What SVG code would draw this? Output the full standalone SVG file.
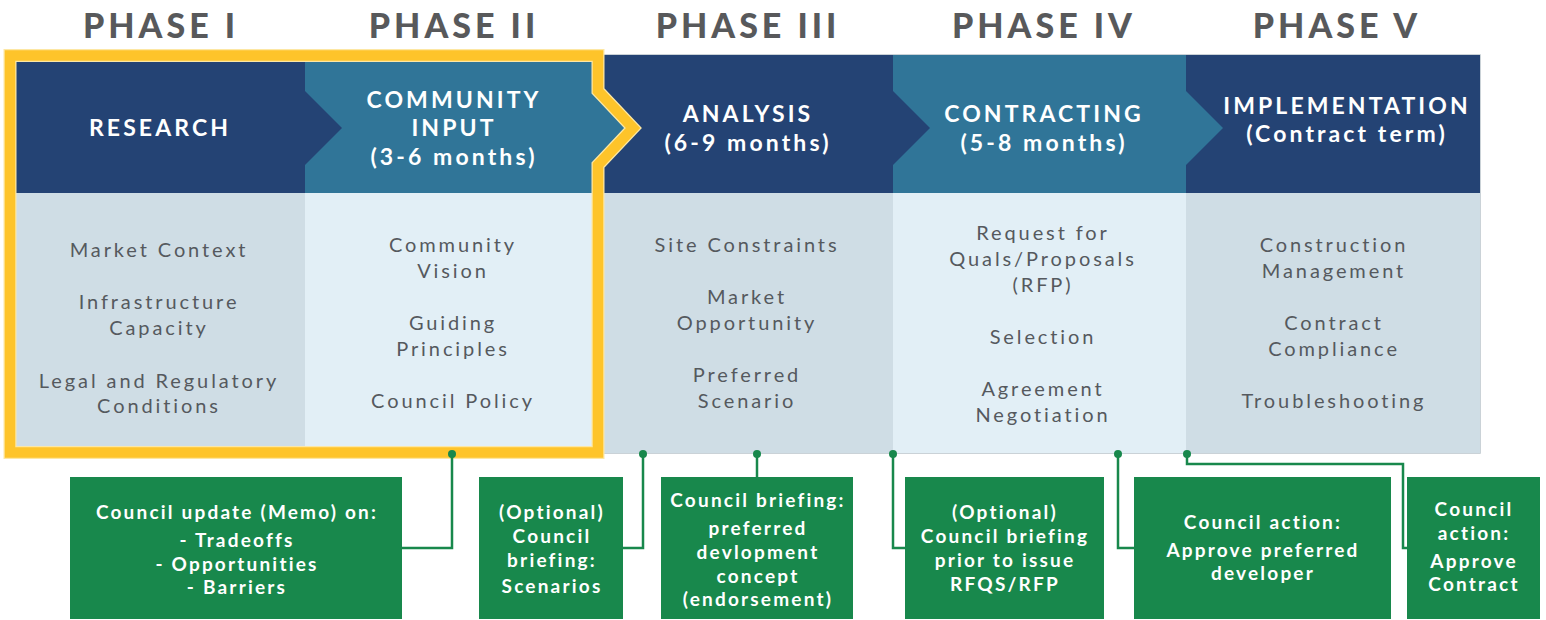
<svg xmlns="http://www.w3.org/2000/svg" width="1546" height="620" viewBox="0 0 1546 620">
<style>
.phase{font-family:Lato,"Open Sans","Liberation Sans",sans-serif;font-weight:900;font-size:34px;fill:#58595b;text-anchor:middle;letter-spacing:4px}
.hd{font-family:Lato,"Open Sans","Liberation Sans",sans-serif;font-weight:700;font-size:23px;fill:#ffffff;text-anchor:middle;letter-spacing:3.1px}
.bd{font-family:Lato,"Open Sans","Liberation Sans",sans-serif;font-weight:400;font-size:20px;fill:#55595e;text-anchor:middle;letter-spacing:2.9px}
.bx{font-family:Lato,"Open Sans","Liberation Sans",sans-serif;font-weight:700;font-size:19px;fill:#ffffff;text-anchor:middle;letter-spacing:2.2px}
.dark{fill:#244374}
.teal{fill:#307598}
.b1{fill:#cfdde5}
.b2{fill:#e2eff6}
.gbox{fill:#18884c}
.conn{fill:none;stroke:#18884c;stroke-width:2.5}
.dot{fill:#18884c}
</style>

<!-- phase titles -->
<g id="phase-titles">
<text class="phase" x="161" y="38">PHASE I</text>
<text class="phase" x="454" y="38">PHASE II</text>
<text class="phase" x="748" y="38">PHASE III</text>
<text class="phase" x="1044" y="38">PHASE IV</text>
<text class="phase" x="1337" y="38">PHASE V</text>
</g>

<!-- body background outline -->
<rect x="10" y="55" width="1470" height="398" fill="none" stroke="#b9c3ca" stroke-width="1.5"/>

<g id="research">
<rect class="dark" x="10" y="55" width="295" height="138"/>
<rect class="b1" x="10" y="193" width="295" height="260"/>
<text class="hd" x="160" y="136">RESEARCH</text>
<text class="bd" x="159" y="257">Market Context</text>
<text class="bd" x="159" y="309">Infrastructure</text>
<text class="bd" x="159" y="335">Capacity</text>
<text class="bd" x="159" y="388">Legal and Regulatory</text>
<text class="bd" x="159" y="413">Conditions</text>
</g>

<g id="community-input">
<rect class="teal" x="305" y="55" width="295" height="138"/>
<polygon class="dark" points="305,91 342,128 305,165"/>
<rect class="b2" x="305" y="193" width="295" height="260"/>
<text class="hd" x="454" y="108">COMMUNITY</text>
<text class="hd" x="454" y="136">INPUT</text>
<text class="hd" x="454" y="165">(3-6 months)</text>
<text class="bd" x="453" y="252">Community</text>
<text class="bd" x="453" y="278">Vision</text>
<text class="bd" x="453" y="330">Guiding</text>
<text class="bd" x="453" y="356">Principles</text>
<text class="bd" x="453" y="408">Council Policy</text>
</g>

<g id="analysis">
<rect class="dark" x="600" y="55" width="293" height="138"/>
<polygon class="teal" points="600,91 637,128 600,165"/>
<rect class="b1" x="600" y="193" width="293" height="260"/>
<text class="hd" x="748" y="122">ANALYSIS</text>
<text class="hd" x="748" y="151">(6-9 months)</text>
<text class="bd" x="747" y="252">Site Constraints</text>
<text class="bd" x="747" y="304">Market</text>
<text class="bd" x="747" y="330">Opportunity</text>
<text class="bd" x="747" y="382">Preferred</text>
<text class="bd" x="747" y="408">Scenario</text>
</g>

<g id="contracting">
<rect class="teal" x="893" y="55" width="293" height="138"/>
<polygon class="dark" points="893,91 930,128 893,165"/>
<rect class="b2" x="893" y="193" width="293" height="260"/>
<text class="hd" x="1044" y="122">CONTRACTING</text>
<text class="hd" x="1044" y="151">(5-8 months)</text>
<text class="bd" x="1043" y="240">Request for</text>
<text class="bd" x="1043" y="266">Quals/Proposals</text>
<text class="bd" x="1043" y="292">(RFP)</text>
<text class="bd" x="1043" y="344">Selection</text>
<text class="bd" x="1043" y="396">Agreement</text>
<text class="bd" x="1043" y="422">Negotiation</text>
</g>

<g id="implementation">
<rect class="dark" x="1186" y="55" width="294" height="138"/>
<polygon class="teal" points="1186,91 1223,128 1186,165"/>
<rect class="b1" x="1186" y="193" width="294" height="260"/>
<text class="hd" x="1347" y="114">IMPLEMENTATION</text>
<text class="hd" x="1347" y="142">(Contract term)</text>
<text class="bd" x="1334" y="252">Construction</text>
<text class="bd" x="1334" y="278">Management</text>
<text class="bd" x="1334" y="330">Contract</text>
<text class="bd" x="1334" y="356">Compliance</text>
<text class="bd" x="1334" y="408">Troubleshooting</text>
</g>

<!-- yellow highlight of phases I-II -->
<g id="highlight">
<path d="M10,55.5 H598 V91 L633,128 L598,165 V452.5 H10 Z" fill="none" stroke="#fde7a3" stroke-width="13" stroke-linejoin="miter"/>
<path d="M10,55.5 H598 V91 L633,128 L598,165 V452.5 H10 Z" fill="none" stroke="#fec42a" stroke-width="10.5" stroke-linejoin="miter"/>
</g>

<g id="connectors">
<path class="conn" d="M452,454 V548 H402"/>
<path class="conn" d="M643,454 V548 H623"/>
<path class="conn" d="M757,454 V477"/>
<path class="conn" d="M893,454 V548 H905"/>
<path class="conn" d="M1118,454 V548 H1134"/>
<path class="conn" d="M1187,454 V464 H1403 V548 H1407"/>
<circle class="dot" cx="452" cy="454" r="4"/>
<circle class="dot" cx="643" cy="454" r="4"/>
<circle class="dot" cx="757" cy="454" r="4"/>
<circle class="dot" cx="893" cy="454" r="4"/>
<circle class="dot" cx="1118" cy="454" r="4"/>
<circle class="dot" cx="1187" cy="454" r="4"/>
</g>

<g id="box-memo">
<rect class="gbox" x="70" y="477" width="332" height="142"/>
<text class="bx" x="237" y="519">Council update (Memo) on:</text>
<text class="bx" x="237" y="547">- Tradeoffs</text>
<text class="bx" x="237" y="571">- Opportunities</text>
<text class="bx" x="237" y="594">- Barriers</text>
</g>

<g id="box-scenarios">
<rect class="gbox" x="479" y="477" width="144" height="142"/>
<text class="bx" x="552" y="519">(Optional)</text>
<text class="bx" x="552" y="543">Council</text>
<text class="bx" x="552" y="567">briefing:</text>
<text class="bx" x="552" y="593">Scenarios</text>
</g>

<g id="box-concept">
<rect class="gbox" x="661" y="477" width="192" height="142"/>
<text class="bx" x="758" y="507">Council briefing:</text>
<text class="bx" x="758" y="535">preferred</text>
<text class="bx" x="758" y="559">devlopment</text>
<text class="bx" x="758" y="583">concept</text>
<text class="bx" x="758" y="606">(endorsement)</text>
</g>

<g id="box-rfp">
<rect class="gbox" x="905" y="477" width="199" height="142"/>
<text class="bx" x="1005" y="519">(Optional)</text>
<text class="bx" x="1005" y="543">Council briefing</text>
<text class="bx" x="1005" y="567">prior to issue</text>
<text class="bx" x="1005" y="591">RFQS/RFP</text>
</g>

<g id="box-developer">
<rect class="gbox" x="1134" y="477" width="257" height="142"/>
<text class="bx" x="1263" y="529">Council action:</text>
<text class="bx" x="1263" y="557">Approve preferred</text>
<text class="bx" x="1263" y="580">developer</text>
</g>

<g id="box-contract">
<rect class="gbox" x="1407" y="477" width="133" height="142"/>
<text class="bx" x="1474" y="516">Council</text>
<text class="bx" x="1474" y="540">action:</text>
<text class="bx" x="1474" y="568">Approve</text>
<text class="bx" x="1474" y="591">Contract</text>
</g>
</svg>
